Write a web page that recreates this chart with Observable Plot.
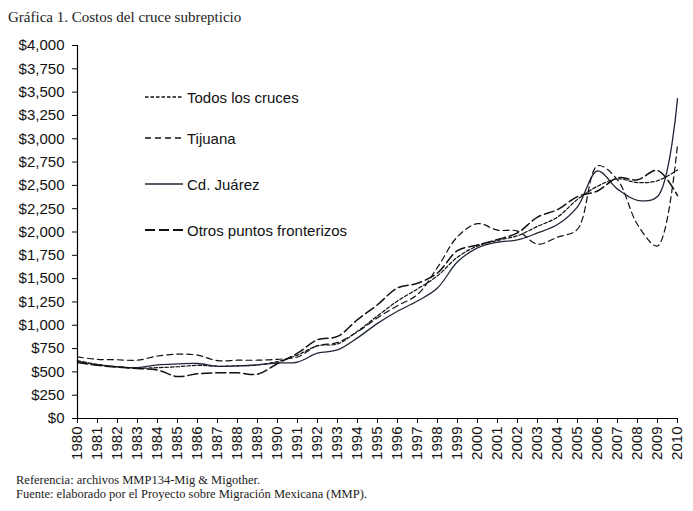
<!DOCTYPE html>
<html>
<head>
<meta charset="utf-8">
<script src="https://cdn.jsdelivr.net/npm/d3@7"></script>
<script src="https://cdn.jsdelivr.net/npm/@observablehq/plot@0.6"></script>
<style>
  html, body { margin: 0; padding: 0; background: #fff; }
  #wrap { position: relative; width: 693px; height: 511px; overflow: hidden; }
  #title { position: absolute; left: 8px; top: 9px; font-family: "Liberation Serif", "Times New Roman", serif; font-size: 15px; color: #222; }
  #chart { position: absolute; left: 0; top: 30px; }
  #caption { position: absolute; left: 16px; top: 473px; font-family: "Liberation Serif", "Times New Roman", serif; font-size: 12.5px; line-height: 14px; color: #222; }
  #legend { position: absolute; left: 0; top: 0; font-family: "Liberation Sans", Arial, sans-serif; font-size: 15px; color: #111; }
  .row { position: absolute; left: 145px; height: 20px; display: flex; align-items: center; white-space: nowrap; }
  .row svg { margin-right: 4px; }
</style>
</head>
<body>
<div id="wrap">
  <div id="title">Gráfica 1. Costos del cruce subrepticio</div>
  <div id="chart"></div>
  <div id="legend"></div>
  <div id="caption">Referencia: archivos MMP134-Mig &amp; Migother.<br>Fuente: elaborado por el Proyecto sobre Migración Mexicana (MMP).</div>
</div>
<script>
const years = d3.range(1980, 2011);
const seriesNames = ["Todos los cruces", "Tijuana", "Cd. Juárez", "Otros puntos fronterizos"];

const todos = [620, 580, 555, 540, 545, 555, 570, 560, 565, 575, 610, 680, 780, 800, 935, 1100, 1260, 1390, 1530, 1730, 1850, 1910, 1960, 2060, 2160, 2350, 2490, 2570, 2530, 2550, 2665];
const tijuana = [660, 635, 630, 625, 670, 690, 680, 620, 625, 625, 635, 660, 780, 815, 930, 1080, 1210, 1330, 1620, 1950, 2090, 2020, 2010, 1870, 1945, 2030, 2710, 2560, 2080, 1850, 2940];
const juarez = [610, 575, 555, 545, 575, 585, 590, 560, 565, 575, 595, 605, 700, 735, 865, 1020, 1150, 1260, 1400, 1680, 1830, 1890, 1915, 1990, 2080, 2270, 2655, 2460, 2340, 2380, 3430];
const otros = [600, 570, 550, 535, 520, 450, 480, 490, 490, 475, 590, 700, 845, 880, 1060, 1220, 1400, 1450, 1560, 1800, 1860, 1920, 1990, 2160, 2240, 2380, 2440, 2580, 2560, 2660, 2390];

const yTicks = d3.range(0, 4001, 250);

const styles = [
  {stroke: "#111", dash: "3.5,2", width: 1.2},
  {stroke: "#111", dash: "6,4", width: 1.2},
  {stroke: "#1e2636", dash: null, width: 1.3},
  {stroke: "#111", dash: "10,4", width: 1.5}
];
const valuesList = [todos, tijuana, juarez, otros];

const lineMarks = valuesList.map((vals, i) => {
  const rows = years.map((yr, j) => ({year: yr, value: vals[j]}));
  const s = styles[i];
  const opts = {x: "year", y: "value", stroke: s.stroke, strokeWidth: s.width, curve: "catmull-rom"};
  if (s.dash) opts.strokeDasharray = s.dash;
  return Plot.line(rows, opts);
});

const chart = Plot.plot({
  width: 693,
  height: 440,
  marginLeft: 77,
  marginRight: 16,
  marginTop: 15,
  marginBottom: 52,
  style: {fontFamily: "'Liberation Sans', Arial, sans-serif", fontSize: "15px", color: "#111", background: "#fff"},
  x: {type: "linear", domain: [1980, 2010]},
  y: {domain: [0, 4000]},
  marks: [
    Plot.axisY({ticks: yTicks, tickFormat: d3.format("$,"), tickSize: 5, tickPadding: 8, fontSize: 15, label: null, stroke: "#000"}),
    Plot.axisX({ticks: years, tickFormat: d => String(d), tickRotate: -90, tickSize: 5, tickPadding: 3, fontSize: 15, label: null, stroke: "#000"}),
    ...lineMarks,
    Plot.ruleX([1980], {stroke: "#000", strokeWidth: 1.2}),
    Plot.ruleY([0], {stroke: "#000", strokeWidth: 1.2})
  ]
});
document.getElementById("chart").appendChild(chart);

// legend
const legendTops = [87, 128, 174, 220];
const legend = document.getElementById("legend");
seriesNames.forEach((name, i) => {
  const s = styles[i];
  const row = document.createElement("div");
  row.className = "row";
  row.style.top = legendTops[i] + "px";
  row.innerHTML = `<svg width="38" height="4"><line x1="0" y1="2" x2="38" y2="2" stroke="${s.stroke}" stroke-width="${s.width + 0.3}" ${s.dash ? `stroke-dasharray="${s.dash}"` : ""}/></svg><span>${name}</span>`;
  legend.appendChild(row);
});
</script>
</body>
</html>
